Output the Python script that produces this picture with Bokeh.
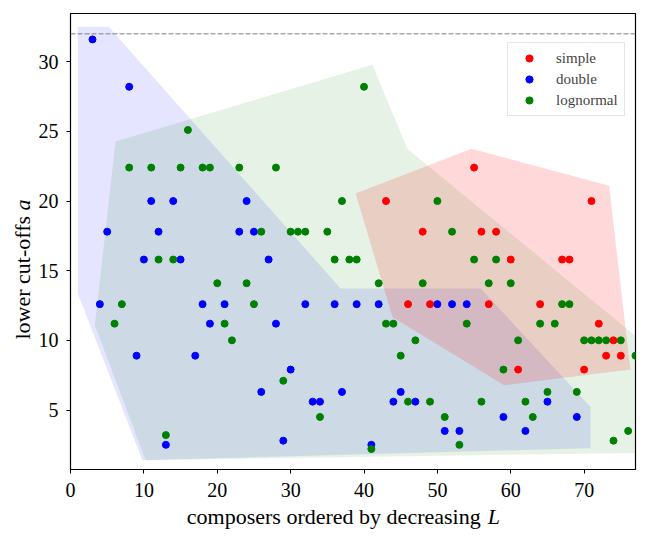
import math
from bokeh.plotting import figure
from bokeh.models import Label, Legend, LegendItem, Span, Range1d, FixedTicker
from bokeh.embed import file_html
from bokeh.resources import INLINE

# ---- data ----
simple_x = [55, 71, 43, 48, 56, 58, 60, 67, 68, 46, 49, 57, 64, 72, 74, 73, 75, 61, 70]
simple_y = [22.4, 20, 20, 17.8, 17.8, 17.8, 15.8, 15.8, 15.8, 12.6, 12.6, 12.6, 12.6, 11.2, 10, 8.9, 8.9, 7.9, 7.9]

double_x = [3, 8, 11, 14, 24, 5, 12, 23, 25, 10, 15, 27, 4, 18, 21, 32, 36, 39, 42, 50, 52, 54,
            19, 28, 9, 17, 30, 26, 37, 45, 33, 34, 44, 47, 65, 59, 69, 51, 53, 62, 29, 13, 41]
double_y = [31.6, 28.2, 20, 20, 20, 17.8, 17.8, 17.8, 17.8, 15.8, 15.8, 15.8, 12.6, 12.6, 12.6, 12.6,
            12.6, 12.6, 12.6, 12.6, 12.6, 12.6, 11.2, 11.2, 8.9, 8.9, 7.9, 6.3, 6.3, 6.3, 5.6, 5.6,
            5.6, 5.6, 5.6, 4.5, 4.5, 3.5, 3.5, 3.5, 2.8, 2.5, 2.5]

lognormal_x = [40, 16, 8, 11, 15, 18, 19, 23, 28, 37, 50, 26, 30, 31, 32, 35, 52, 12, 14, 36, 38, 39,
               55, 58, 20, 24, 42, 48, 57, 60, 7, 25, 67, 68, 6, 21, 43, 44, 54, 64, 66, 22, 47, 61,
               70, 71, 72, 73, 75, 45, 77, 59, 29, 65, 69, 46, 49, 56, 62, 34, 51, 63, 76, 13, 74,
               53, 41]
lognormal_y = [28.2, 25.1, 22.4, 22.4, 22.4, 22.4, 22.4, 22.4, 22.4, 20, 20, 17.8, 17.8, 17.8, 17.8,
               17.8, 17.8, 15.8, 15.8, 15.8, 15.8, 15.8, 15.8, 15.8, 14.1, 14.1, 14.1, 14.1, 14.1,
               14.1, 12.6, 12.6, 12.6, 12.6, 11.2, 11.2, 11.2, 11.2, 11.2, 11.2, 11.2, 10, 10, 10,
               10, 10, 10, 10, 10, 8.9, 8.9, 7.9, 7.1, 6.3, 6.3, 5.6, 5.6, 5.6, 5.6, 4.5, 4.5, 4.5,
               3.5, 3.2, 2.8, 2.5, 2.2]

# shaded regions (hull outlines)
double_hull_x = [1.0, 5.2, 36.8, 55.9, 70.9, 70.9, 9.8, 1.0]
double_hull_y = [32.5, 32.5, 13.73, 13.73, 5.2, 2.26, 1.40, 13.35]
lognormal_hull_x = [6.14, 41.14, 45.92, 76.9, 76.9, 10.23, 3.31]
lognormal_hull_y = [24.27, 29.78, 23.74, 10.36, 1.92, 1.40, 11.08]
simple_hull_x = [38.86, 54.64, 73.4, 76.3, 59.1, 43.9]
simple_hull_y = [20.54, 23.76, 21.1, 7.9, 6.77, 11.65]

x_ticks = [0, 10, 20, 30, 40, 50, 60, 70]
y_ticks = [5, 10, 15, 20, 25, 30]
ref_level = 32

FONT = "Liberation Serif"

p = figure(frame_width=565, frame_height=456, min_border_left=70, min_border_right=8,
           min_border_top=13, min_border_bottom=60,
           x_range=Range1d(0, 77), y_range=Range1d(0.73, 33.46),
           output_backend="svg", toolbar_location=None, tools="")
p.xgrid.visible = False
p.ygrid.visible = False
p.outline_line_color = "black"
p.outline_line_width = 1.2
p.outline_line_alpha = 1.0

for ax in (p.xaxis[0], p.yaxis[0]):
    ax.major_label_text_font = FONT
    ax.major_label_text_font_size = "20px"
    ax.major_label_text_color = "black"
    ax.axis_line_color = "black"
    ax.major_tick_line_color = "black"
    ax.minor_tick_line_color = None
    ax.major_tick_out = 4
    ax.major_tick_in = 0
p.xaxis.ticker = FixedTicker(ticks=x_ticks)
p.yaxis.ticker = FixedTicker(ticks=y_ticks)
p.xaxis.major_label_standoff = 9
p.yaxis.major_label_standoff = 8

# regions
p.patch(double_hull_x, double_hull_y, fill_color="#0000ff", fill_alpha=0.1, line_color=None)
p.patch(lognormal_hull_x, lognormal_hull_y, fill_color="#008000", fill_alpha=0.1, line_color=None)
p.patch(simple_hull_x, simple_hull_y, fill_color="#ff0000", fill_alpha=0.15, line_color=None)

p.add_layout(Span(location=ref_level, dimension="width", line_color="#7f7f7f",
                  line_dash="5 2", line_width=1))

r_s = p.scatter(simple_x, simple_y, size=7, color="#ff0000")
r_d = p.scatter(double_x, double_y, size=7, color="#0000ff")
r_l = p.scatter(lognormal_x, lognormal_y, size=7, color="#008000")

legend = Legend(items=[LegendItem(label="simple", renderers=[r_s]),
                       LegendItem(label="double", renderers=[r_d]),
                       LegendItem(label="lognormal", renderers=[r_l])],
                location=(437, 353))
legend.label_text_font = FONT
legend.label_text_font_size = "15px"
legend.padding = 6
legend.glyph_width = 30
legend.glyph_height = 18
legend.spacing = 3
legend.label_standoff = 12
legend.border_line_color = "#cccccc"
legend.border_line_width = 1
legend.background_fill_alpha = 0.8
legend.margin = 0
p.add_layout(legend, "center")

# axis labels with italic symbols; placed in a side panel so they are not clipped
common = dict(text_font=FONT, text_font_size="22px", text_color="black",
              text_baseline="alphabetic")
p.add_layout(Label(x=55.9, y=-2.65, text="composers ordered by decreasing",
                   text_align="right", **common), "below")
p.add_layout(Label(x=56.85, y=-2.65, text="L", text_align="left",
                   text_font_style="italic", **common), "below")
p.add_layout(Label(x=-6.54, y=18.93, text="lower cut-offs", angle=math.pi / 2,
                   text_align="right", **common), "below")
p.add_layout(Label(x=-6.54, y=19.32, text="a", angle=math.pi / 2, text_align="left",
                   text_font_style="italic", **common), "below")

open("out.html", "w").write(file_html(p, INLINE))
